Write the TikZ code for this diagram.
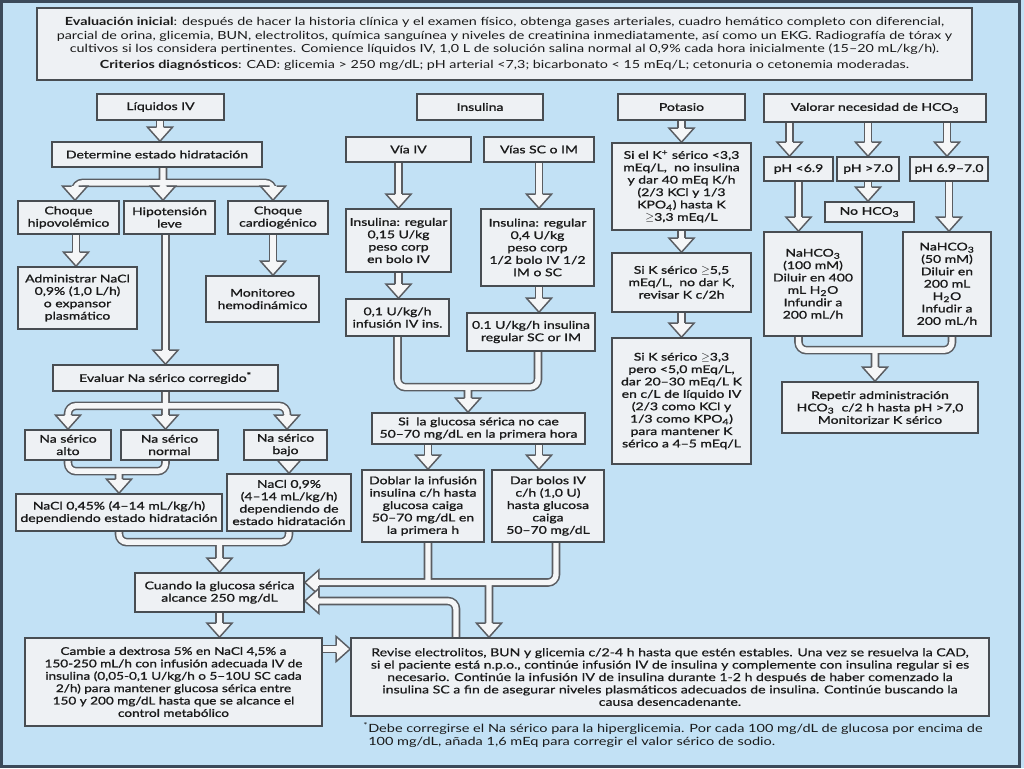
\documentclass[tikz,border=0pt]{standalone}
\usepackage{fontspec}
\setmainfont{Lato}[FakeStretch=1.28]
\newfontfamily\bxfam{Lato}[FakeStretch=1.31,FakeBold=1.2]
\newfontfamily\camfam{Lato}[FakeStretch=1.27,FakeBold=1.2]
\newfontfamily\revfam{Lato}[FakeStretch=1.28,FakeBold=0.6]
\usetikzlibrary{calc}
\definecolor{bgc}{HTML}{C2E1F5}
\definecolor{frm}{HTML}{3B4A5A}
\definecolor{bf}{HTML}{EEF1F4}
\definecolor{bc}{HTML}{484D52}
\definecolor{ac}{HTML}{5A5D62}
\definecolor{ai}{HTML}{F5F6F7}
\definecolor{tc}{HTML}{1A1A1A}
\newcommand\bxf{\bxfam\fontsize{8}{9.3}\selectfont}
\newcommand\camf{\camfam\fontsize{8}{9.3}\selectfont}
\newcommand\topf{\fontsize{8.4}{10}\selectfont}
\newcommand\revf{\revfam\fontsize{8.25}{9.3}\selectfont}
\newcommand\fnf{\fontsize{8.5}{10.1}\selectfont}
\newcommand\hD[1]{\filldraw[head,shift={(#1)}] (-3.5,-14) -- (-12.5,-14) -- (0,0) -- (12.5,-14) -- (3.5,-14);}
\newcommand\hL[1]{\filldraw[head,shift={(#1)}] (14,-3.5) -- (14,-12.5) -- (0,0) -- (14,12.5) -- (14,3.5);}
\newcommand\hR[1]{\filldraw[head,shift={(#1)}] (-14,-3.5) -- (-14,-12.5) -- (0,0) -- (-14,12.5) -- (-14,3.5);}
\newcommand\conn[1]{\draw[outer] #1; \draw[inner] #1;}
\newcommand\bx[7][]{\node[box,#1,minimum width={(#5-#3)*0.75pt},minimum height={(#6-#4)*0.75pt}] (#2) at ({(#3+#5)/2},{(#4+#6)/2}) {#7};}
\pgfdeclarelayer{back}
\pgfsetlayers{back,main}
\begin{document}
\begin{tikzpicture}[x=0.75pt,y=-0.75pt,
 box/.style={draw=bc,fill=bf,line width=1.2pt,align=center,inner sep=0pt,font=\bxf,text=tc},
 outer/.style={draw=ac,line width=6.4pt,rounded corners=6pt},
 inner/.style={draw=ai,line width=4.1pt,rounded corners=6pt},
 head/.style={fill=ai,draw=ac,line width=1.1pt,line join=miter}]
\useasboundingbox (0,0) rectangle (1024,768);
% boxes
\bx[font=\topf]{top}{37}{8}{972}{80}{\textbf{Evaluación inicial}: después de hacer la historia clínica y el examen físico, obtenga gases arteriales, cuadro hemático completo con diferencial,\\ parcial de orina, glicemia, BUN, electrolitos, química sanguínea y niveles de creatinina inmediatamente, así como un EKG. Radiografía de tórax y\\ cultivos si los considera pertinentes. Comience líquidos IV, 1,0 L de solución salina normal al 0,9\% cada hora inicialmente (15–20 mL/kg/h).\\[2pt] \textbf{Criterios diagnósticos}: CAD: glicemia > 250 mg/dL; pH arterial <7,3; bicarbonato < 15 mEq/L; cetonuria o cetonemia moderadas.}
\bx{liq}{97}{94}{224}{120}{Líquidos IV}
\bx{ins}{417}{94}{543}{120}{Insulina}
\bx{pot}{618}{94}{745}{120}{Potasio}
\bx{val}{764}{94}{986}{122}{Valorar necesidad de HCO\textsubscript{3}}
\bx{det}{52}{142}{262}{167}{Determine estado hidratación}
\bx{via}{346}{137}{471}{162}{Vía IV}
\bx{vsc}{484}{137}{594}{162}{Vías SC o IM}
\bx{k1}{612}{143}{751}{230}{Si el K\textsuperscript{+} sérico <3,3\\ mEq/L,\ \ no insulina\\ y dar 40 mEq K/h\\ (2/3 KCl y 1/3\\ KPO\textsubscript{4}) hasta K\\ $\geq$3,3 mEq/L}
\bx{ph1}{764}{157}{833}{181}{pH <6.9}
\bx{ph2}{837}{157}{899}{181}{pH >7.0}
\bx{ph3}{910}{157}{988}{181}{pH 6.9–7.0}
\bx{nohco}{825}{202}{914}{222}{No HCO\textsubscript{3}}
\bx{chh}{18}{201}{119}{234}{Choque\\hipovolémico}
\bx{hip}{124}{201}{215}{234}{Hipotensión\\leve}
\bx{chc}{228}{201}{328}{234}{Choque\\cardiogénico}
\bx{i15}{346}{209}{451}{272}{Insulina: regular\\0,15 U/kg\\peso corp\\en bolo IV}
\bx{i04}{481}{209}{594}{286}{Insulina: regular\\0,4 U/kg\\peso corp\\1/2 bolo IV 1/2\\IM o SC}
\bx{na100}{764}{232}{862}{336}{NaHCO\textsubscript{3}\\(100 mM)\\Diluir en 400\\mL H\textsubscript{2}O\\Infundir a\\200 mL/h}
\bx{na50}{903}{232}{991}{336}{NaHCO\textsubscript{3}\\(50 mM)\\Diluir en\\200 mL\\H\textsubscript{2}O\\Infudir a\\200 mL/h}
\bx{adm}{18}{267}{137}{329}{Administrar NaCl\\0,9\% (1,0 L/h)\\o expansor\\plasmático}
\bx{mon}{206}{276}{319}{322}{Monitoreo\\hemodinámico}
\bx{k2}{612}{253}{751}{312}{Si K sérico $\geq$5,5\\mEq/L,\ \ no dar K,\\revisar K c/2h}
\bx{i01}{346}{299}{449}{336}{0,1 U/kg/h\\infusión IV ins.}
\bx{isc}{467}{313}{595}{351}{0.1 U/kg/h insulina\\regular SC or IM}
\bx{eva}{53}{365}{278}{391}{Evaluar Na sérico corregido\textsuperscript{*}}
\bx{k3}{612}{338}{751}{464}{Si K sérico $\geq$3,3\\pero <5,0 mEq/L,\\dar 20–30 mEq/L K\\en c/L de líquido IV\\(2/3 como KCl y\\1/3 como KPO\textsubscript{4})\\para mantener K\\sérico a 4–5 mEq/L}
\bx{rep}{782}{382}{978}{433}{Repetir administración\\HCO\textsubscript{3}\ \ c/2 h hasta pH >7,0\\Monitorizar K sérico}
\bx{naa}{25}{430}{111}{460}{Na sérico\\alto}
\bx{nan}{121}{430}{218}{460}{Na sérico\\normal}
\bx{nab}{244}{430}{327}{460}{Na sérico\\bajo}
\bx{glu}{372}{413}{585}{444}{Si\ \ la glucosa sérica no cae\\50–70 mg/dL en la primera hora}
\bx{n45}{16}{494}{222}{531}{NaCl 0,45\% (4–14 mL/kg/h)\\dependiendo estado hidratación}
\bx{n09}{227}{474}{351}{531}{NaCl 0,9\%\\(4–14 mL/kg/h)\\dependiendo de\\estado hidratación}
\bx{dob}{362}{470}{484}{542}{Doblar la infusión\\insulina c/h hasta\\glucosa caiga\\50–70 mg/dL en\\la primera h}
\bx{dar}{492}{470}{604}{542}{Dar bolos IV\\c/h (1,0 U)\\hasta glucosa\\caiga\\50–70 mg/dL}
\bx{cua}{135}{573}{304}{612}{Cuando la glucosa sérica\\alcance 250 mg/dL}
\bx[font=\camf]{cam}{25}{638}{322}{726}{Cambie a dextrosa 5\% en NaCl 4,5\% a\\150-250 mL/h con infusión adecuada IV de\\insulina (0,05-0,1 U/kg/h o 5–10U SC cada\\2/h) para mantener glucosa sérica entre\\150 y 200 mg/dL hasta que se alcance el\\control metabólico}
\bx[font=\revf]{rev}{351}{638}{989}{716}{Revise electrolitos, BUN y glicemia c/2-4 h hasta que estén estables. Una vez se resuelva la CAD,\\si el paciente está n.p.o., continúe infusión IV de insulina y complemente con insulina regular si es\\necesario. Continúe la infusión IV de insulina durante 1-2 h después de haber comenzado la\\insulina SC a fin de asegurar niveles plasmáticos adecuados de insulina. Continúe buscando la\\causa desencadenante.}
\node[anchor=north west,align=left,font=\fnf,inner sep=0pt,text=tc] (fn) at (368,722) {\llap{\textsuperscript{*}}Debe corregirse el Na sérico para la hiperglicemia. Por cada 100 mg/dL de glucosa por encima de\\100 mg/dL, añada 1,6 mEq para corregir el valor sérico de sodio.};
% coordinates
\coordinate (t1) at ($(det.north)+(3,0)$);
\coordinate (t2a) at ($(chh.north)+(6.5,0)$);
\coordinate (t2b) at ($(hip.north)+(-6.5,0)$);
\coordinate (t2c) at ($(chc.north)+(-5,0)$);
\coordinate (b2) at ($(det.south)+(6,15)$);
\coordinate (t3) at ($(adm.north)+(-1.5,0)$);
\coordinate (t4) at (mon.north -| t2c);
\coordinate (t5) at (eva.north);
\coordinate (t6a) at (naa.north);
\coordinate (t6b) at (nan.north -| eva.south);
\coordinate (t6c) at ($(nab.north)+(1.5,0)$);
\coordinate (b6) at ($(eva.south)+(0,14)$);
\coordinate (t7) at (n45.north);
\coordinate (b7) at ($(t7)+(0,-22)$);
\coordinate (t8) at (n09.north);
\coordinate (t9) at (cua.north);
\coordinate (b9) at ($(t9)+(0,-30)$);
\coordinate (t10) at (cam.north -| cua.south);
\coordinate (t11) at ($(rev.west)+(0,-28)$);
\coordinate (t12) at ($(glu.north)+(-10.5,0)$);
\coordinate (b12) at ($(t12)+(0,-25)$);
\coordinate (t13) at (i15.north);
\coordinate (t14) at (i01.north -| i15.south);
\coordinate (t15) at (i04.north -| vsc.south);
\coordinate (t16) at (isc.north -| vsc.south);
\coordinate (t17a) at ($(dob.north)+(5,0)$);
\coordinate (t17b) at (dar.north -| vsc.south);
\coordinate (t18) at ($(cua.east)+(0,-10)$);
\coordinate (t18b) at ($(rev.north)+(-181,0)$);
\coordinate (t19) at ($(cua.east)+(0,8.5)$);
\coordinate (s19) at ($(rev.north)+(-214,0)$);
\coordinate (t21a) at ($(ph1.north)+(-9,0)$);
\coordinate (t21b) at (ph2.north);
\coordinate (t21c) at ($(ph3.north)+(-2,0)$);
\coordinate (t22a) at (na100.north -| ph1.south);
\coordinate (t22b) at (nohco.north -| ph2.south);
\coordinate (t22c) at (na50.north -| ph3.south);
\coordinate (t23) at ($(rep.north)+(-5,0)$);
\coordinate (b23) at ($(t23)+(0,-31)$);
\begin{pgfonlayer}{back}
\fill[bgc] (0,0) rectangle (1024,768);
\draw[frm,line width=2.2pt] (1.5,1.5) rectangle (1019.5,766.5);
% connectors
\conn{(liq.south -| t1) -- ($(t1)+(0,-13)$)}
\conn{($(t2a)+(0,-13)$) |- (b2) -| ($(t2c)+(0,-13)$) (det.south -| t2b) -- ($(t2b)+(0,-13)$)}
\conn{(chh.south -| t3) -- ($(t3)+(0,-13)$)}
\conn{(chc.south -| t4) -- ($(t4)+(0,-13)$)}
\conn{(hip.south -| t5) -- ($(t5)+(0,-13)$)}
\conn{($(t6a)+(0,-13)$) |- (b6) -| ($(t6c)+(0,-13)$) (eva.south) -- ($(t6b)+(0,-13)$)}
\conn{(naa.south) |- (b7) -| (nan.south -| t6b) (b7) -- ($(t7)+(0,-13)$)}
\conn{(nab.south -| t8) -- ($(t8)+(0,-13)$)}
\conn{(n45.south) |- (b9) -| (n09.south) (b9) -- ($(t9)+(0,-13)$)}
\conn{(cua.south) -- ($(t10)+(0,-13)$)}
\conn{(cam.east |- t11) -- ($(t11)+(-13,0)$)}
\conn{(i01.south) |- (b12) -| ($(isc.south)+(7,0)$) (b12) -- ($(t12)+(0,-13)$)}
\conn{(via.south -| t13) -- ($(t13)+(0,-13)$)}
\conn{(i15.south) -- ($(t14)+(0,-13)$)}
\conn{(vsc.south) -- ($(t15)+(0,-13)$)}
\conn{(i04.south -| t16) -- ($(t16)+(0,-13)$)}
\conn{(glu.south -| t17a) -- ($(t17a)+(0,-13)$) (glu.south -| t17b) -- ($(t17b)+(0,-13)$)}
\conn{($(dar.south)+(8,0)$) |- ($(t18)+(13,0)$) (dob.south -| t17a) -- (t17a |- t18) (t18b |- t18) -- ($(t18b)+(0,-13)$)}
\conn{(s19) |- ($(t19)+(13,0)$)}
\conn{(pot.south) -- ($(k1.north)+(0,-13)$) (k1.south) -- ($(k2.north)+(0,-13)$) (k2.south) -- ($(k3.north)+(0,-13)$)}
\conn{(val.south -| t21a) -- ($(t21a)+(0,-13)$) (val.south -| t21b) -- ($(t21b)+(0,-13)$) (val.south -| t21c) -- ($(t21c)+(0,-13)$)}
\conn{(ph1.south) -- ($(t22a)+(0,-13)$) (ph2.south) -- ($(t22b)+(0,-13)$) (ph3.south) -- ($(t22c)+(0,-13)$)}
\conn{(na100.south -| ph1.south) |- (b23) -| ($(na50.south)+(5,0)$) (b23) -- ($(t23)+(0,-13)$)}
% heads
\hD{t1}\hD{t2a}\hD{t2b}\hD{t2c}\hD{t3}\hD{t4}\hD{t5}
\hD{t6a}\hD{t6b}\hD{t6c}\hD{t7}\hD{t8}\hD{t9}\hD{t10}\hR{t11}
\hD{t12}\hD{t13}\hD{t14}\hD{t15}\hD{t16}\hD{t17a}\hD{t17b}
\hL{t18}\hD{t18b}\hL{t19}
\hD{k1.north}\hD{k2.north}\hD{k3.north}
\hD{t21a}\hD{t21b}\hD{t21c}\hD{t22a}\hD{t22b}\hD{t22c}\hD{t23}
\end{pgfonlayer}
\end{tikzpicture}
\end{document}
